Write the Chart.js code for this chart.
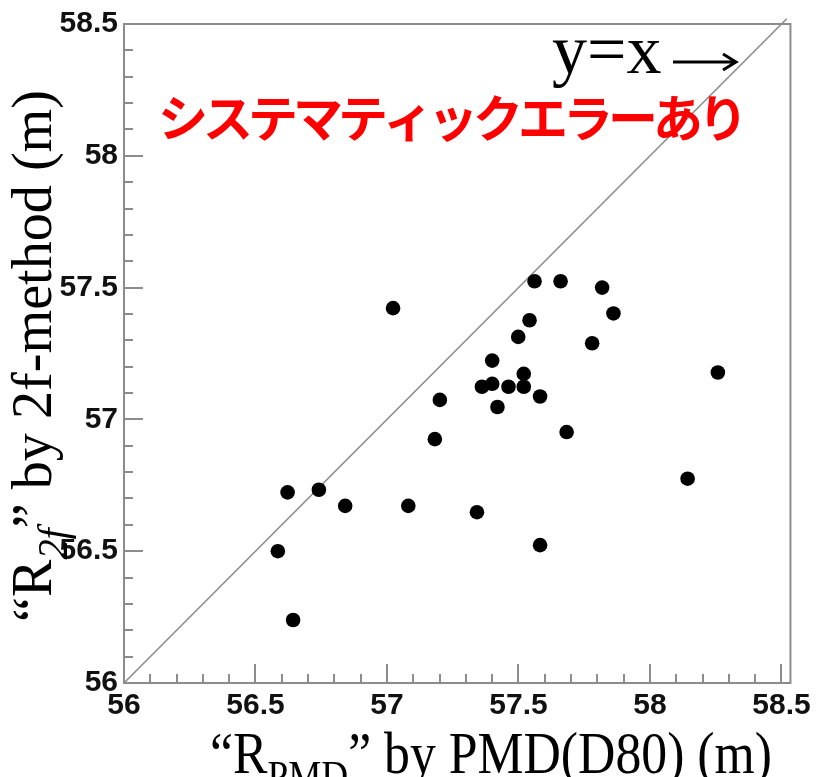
<!DOCTYPE html>
<html>
<head>
<meta charset="utf-8">
<script src="https://cdn.jsdelivr.net/npm/chart.js@4/dist/chart.umd.min.js"></script>
<style>
  html, body { margin: 0; padding: 0; background: #fff; }
  #c { display: block; }
</style>
</head>
<body>
<canvas id="c" width="816" height="777"></canvas>
<script>
// R measured by PMD(D80) vs R from the 2f method, in metres
const rPmd = [57.023, 57.561, 57.660, 57.818, 57.861, 57.542, 57.499, 57.780, 57.400, 57.520,
              57.361, 57.400, 57.462, 57.520, 57.582, 57.201, 57.420, 57.683, 57.182, 58.258,
              56.622, 56.741, 56.841, 57.081, 57.342, 58.143, 56.585, 57.582, 56.643];
const r2f  = [57.422, 57.524, 57.524, 57.500, 57.402, 57.376, 57.313, 57.289, 57.223, 57.173,
              57.124, 57.135, 57.124, 57.124, 57.087, 57.074, 57.047, 56.952, 56.925, 57.178,
              56.723, 56.733, 56.672, 56.672, 56.648, 56.775, 56.500, 56.523, 56.239];

// y = x reference line ends
const diagStart = 56;
const diagEnd = 58.52;

const xTicks = [56, 56.5, 57, 57.5, 58, 58.5];
const yTicks = [56, 56.5, 57, 57.5, 58, 58.5];

const xTitle = [{ t: '\u201CR' }, { t: 'PMD', sub: true }, { t: '\u201D by PMD(D80) (m)' }];
const yTitle = [{ t: '\u201CR' }, { t: '2f', sub: true, italic: true }, { t: '\u201D by 2f-method (m)' }];
const noteText = 'システマティックエラーあり';
const diagText = 'y=x';

const GRAY = '#8c8c8c';

function serif(size, italic) {
    return (italic ? 'italic ' : '') + size + 'px "Liberation Serif", "DejaVu Serif", serif';
}

// draws text with subscripts, centred on the origin, squeezed to the given width
function drawRich(ctx, parts, size, target) {
    let w = 0;
    parts.forEach(p => {
        const s = p.sub ? size * 0.72 : size;
        ctx.font = serif(s, p.italic);
        p.w = ctx.measureText(p.t).width;
        w += p.w;
    });
    ctx.scale(target / w, 1);
    ctx.textAlign = 'left';
    ctx.textBaseline = 'alphabetic';
    let cx = -w / 2;
    parts.forEach(p => {
        const s = p.sub ? size * 0.72 : size;
        ctx.font = serif(s, p.italic);
        ctx.fillText(p.t, cx, p.sub ? size * 0.28 : 0);
        cx += p.w;
    });
}

const frameAndTicks = {
    id: 'frameAndTicks',
    beforeDatasetsDraw(chart) {
        const { ctx, chartArea: a, scales: { x, y } } = chart;
        ctx.save();
        ctx.strokeStyle = GRAY;
        ctx.lineWidth = 2;
        ctx.strokeRect(a.left, a.top, a.right - a.left, a.bottom - a.top);
        // inward ticks, long at every 0.5, short at every 0.1
        for (let i = 0; i <= 25; i++) {
            const v = 56 + i * 0.1;
            const len = i % 5 === 0 ? 19 : 9;
            const px = Math.round(x.getPixelForValue(v));
            const py = Math.round(y.getPixelForValue(v));
            ctx.beginPath();
            ctx.moveTo(px, a.bottom);
            ctx.lineTo(px, a.bottom - len);
            ctx.moveTo(a.left, py);
            ctx.lineTo(a.left + len, py);
            ctx.stroke();
        }
        ctx.restore();
    },
    afterDraw(chart) {
        const { ctx } = chart;
        ctx.save();
        ctx.fillStyle = '#000';

        // axis titles
        ctx.save();
        ctx.translate(491, 773);
        drawRich(ctx, xTitle, 60, 562);
        ctx.restore();

        ctx.save();
        ctx.translate(51, 356);
        ctx.rotate(-Math.PI / 2);
        drawRich(ctx, yTitle, 58, 532);
        ctx.restore();

        // y=x label with arrow
        ctx.font = serif(70);
        ctx.textAlign = 'left';
        ctx.textBaseline = 'alphabetic';
        ctx.fillText(diagText, 552, 73);
        ctx.strokeStyle = '#000';
        ctx.lineWidth = 3;
        ctx.beginPath();
        ctx.moveTo(673, 62);
        ctx.lineTo(735, 62);
        ctx.moveTo(723, 54);
        ctx.lineTo(736, 62);
        ctx.lineTo(723, 70);
        ctx.stroke();

        // red note
        ctx.fillStyle = '#ff0000';
        ctx.font = 'bold 50px "Noto Sans CJK JP", sans-serif';
        ctx.textAlign = 'left';
        ctx.textBaseline = 'middle';
        const chars = [...noteText];
        const natural = ctx.measureText(noteText).width;
        const gap = (590 - natural) / (chars.length - 1);
        let cx = 158;
        chars.forEach(ch => {
            ctx.fillText(ch, cx, 118);
            cx += ctx.measureText(ch).width + gap;
        });
        ctx.restore();
    }
};

const tickFont = { family: '"Liberation Sans", Arial, sans-serif', weight: 'bold', size: 30 };

new Chart(document.getElementById('c'), {
    type: 'scatter',
    data: {
        datasets: [
            {
                data: rPmd.map((v, i) => ({ x: v, y: r2f[i] })),
                backgroundColor: '#000',
                borderWidth: 0,
                pointRadius: 7.3,
                pointHoverRadius: 7.3
            },
            {
                type: 'line',
                data: [{ x: diagStart, y: diagStart }, { x: diagEnd, y: diagEnd }],
                borderColor: GRAY,
                borderWidth: 1.6,
                pointRadius: 0,
                clip: false
            }
        ]
    },
    options: {
        responsive: false,
        animation: false,
        layout: { padding: { left: 0, top: 23, right: 23, bottom: 0 } },
        plugins: { legend: { display: false }, tooltip: { enabled: false } },
        scales: {
            x: {
                type: 'linear',
                min: 56,
                max: 58.534,
                grid: { display: false, drawTicks: false },
                border: { display: false },
                afterBuildTicks: s => { s.ticks = xTicks.map(v => ({ value: v })); },
                afterFit: s => { s.height = 94; },
                ticks: { color: '#111', font: tickFont, padding: 5, maxRotation: 0, autoSkip: false,
                         callback: v => String(v) }
            },
            y: {
                type: 'linear',
                min: 56,
                max: 58.5,
                grid: { display: false, drawTicks: false },
                border: { display: false },
                afterBuildTicks: s => { s.ticks = yTicks.map(v => ({ value: v })); },
                afterFit: s => { s.width = 124; },
                ticks: { color: '#111', font: tickFont, padding: 6, autoSkip: false,
                         callback: v => String(v) }
            }
        }
    },
    plugins: [frameAndTicks]
});
</script>
</body>
</html>
